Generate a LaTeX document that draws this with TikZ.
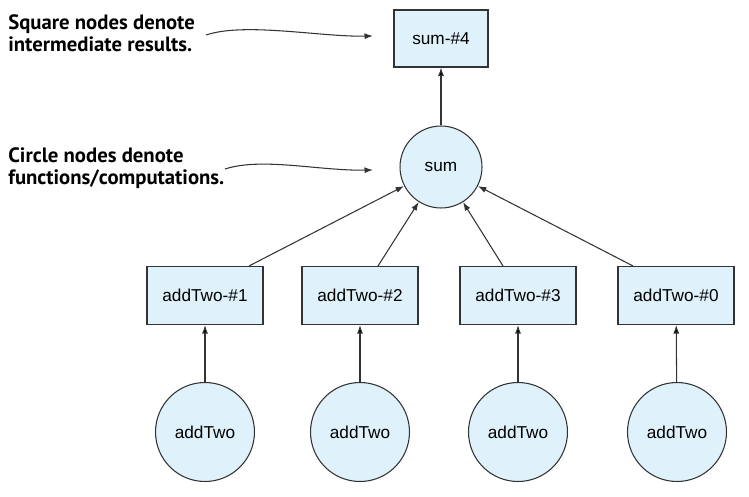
\documentclass[tikz,border=0pt]{standalone}
\usepackage{fontspec}
\setmainfont{Liberation Sans}
\newfontfamily\notefont{PT Sans}
\usetikzlibrary{arrows.meta}

\definecolor{nodefill}{HTML}{DFF1FA}
\definecolor{linegray}{HTML}{333333}

\tikzset{
	box/.style={shape=rectangle,draw=linegray,fill=nodefill,line width=0.6pt,
		minimum width=2.32cm,minimum height=1.16cm,font=\fontsize{9.8}{12}\selectfont},
	fn/.style={shape=circle,draw=linegray,fill=nodefill,line width=0.6pt,
		inner sep=0pt,font=\fontsize{9.8}{12}\selectfont},
	arr/.style={-{Latex[length=1.7mm,width=1.2mm]},draw=linegray,line width=0.6pt},
	note/.style={align=left,anchor=north west,inner sep=0pt,
		font=\notefont\bfseries\fontsize{11.8}{12.6}\selectfont}
}

\begin{document}
\begin{tikzpicture}[x=0.02cm,y=-0.02cm]
	\useasboundingbox (0,0) rectangle (749,496);

	% results and computations
	\node[box,minimum width=1.88cm,minimum height=1.14cm] (sum4) at (441, 38.5) {sum-\#4};
	\node[fn,minimum size=1.64cm] (sum) at (441, 167) {sum};
	\node[box] (add1) at (205, 295.5) {addTwo-\#1};
	\node[box] (add2) at (360, 295.5) {addTwo-\#2};
	\node[box] (add3) at (518, 295.5) {addTwo-\#3};
	\node[box] (add0) at (676, 295.5) {addTwo-\#0};
	\node[fn,minimum size=1.98cm] (fn1) at (205, 432) {addTwo};
	\node[fn,minimum size=1.98cm] (fn2) at (360, 432) {addTwo};
	\node[fn,minimum size=1.98cm] (fn3) at (518, 432) {addTwo};
	\node[fn,minimum size=1.98cm] (fn0) at (677, 432) {addTwo};

	% notes
	\node[note] (sqnote) at (8, 14) {Square nodes denote\\intermediate results.};
	\node[note] (cinote) at (8, 147) {Circle nodes denote\\functions/computations.};
	\coordinate (sqfrom) at (206, 35);
	\coordinate (sqto) at (373, 36);
	\coordinate (cifrom) at (225, 169);
	\coordinate (cito) at (373, 170);

	\path[arr] (sum) edge (sum4);
	\path[arr] (fn1) edge (add1);
	\path[arr] (fn2) edge (add2);
	\path[arr] (fn3) edge (add3);
	\path[arr] (fn0) edge (add0);
	\draw[arr] ([xshift=0.88cm]add1.north) -- (sum);
	\draw[arr] ([xshift=0.36cm]add2.north) -- (sum);
	\draw[arr] ([xshift=-0.30cm]add3.north) -- (sum);
	\draw[arr] ([xshift=-0.86cm]add0.north) -- (sum);
	\draw[arr] (sqfrom) .. controls (245, 22) and (320, 37) .. (sqto);
	\draw[arr] (cifrom) .. controls (262, 157) and (320, 171) .. (cito);
\end{tikzpicture}
\end{document}
